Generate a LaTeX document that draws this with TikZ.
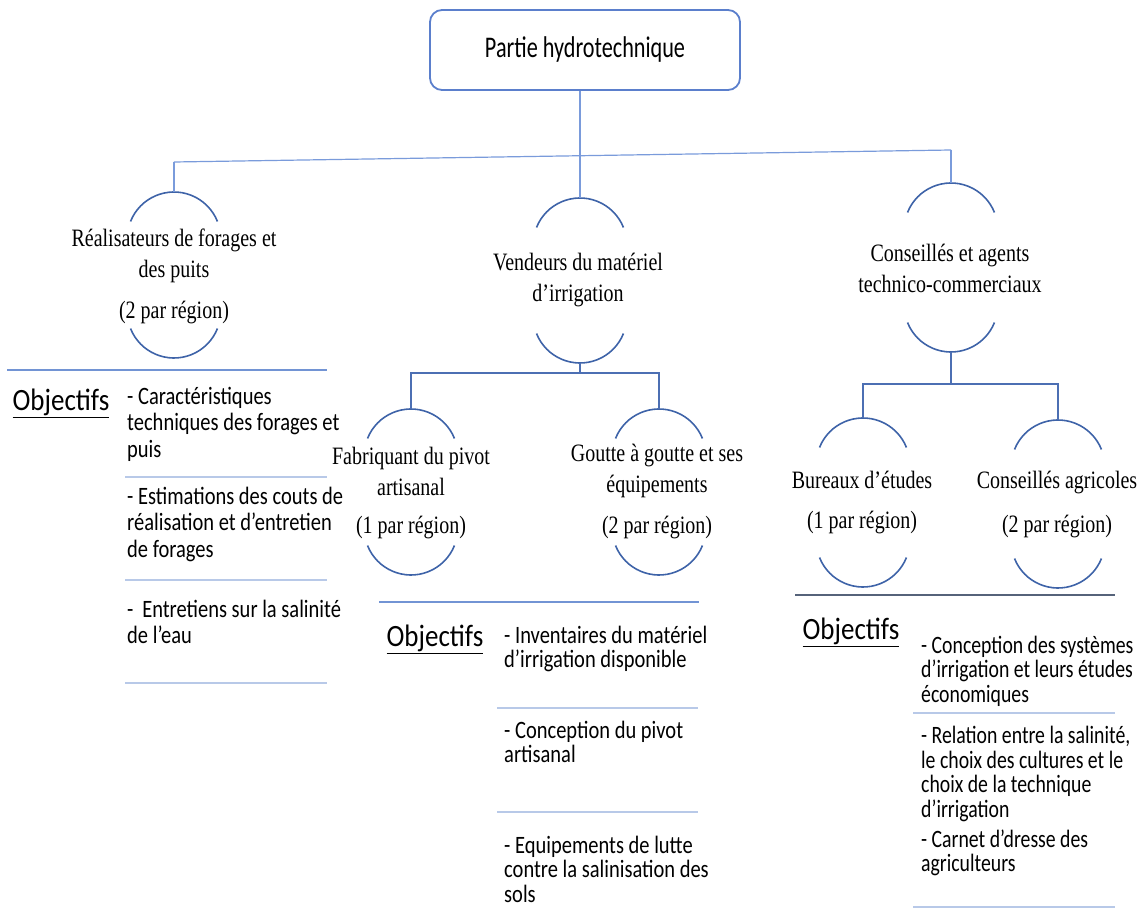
\documentclass[tikz,border=0pt]{standalone}
\usepackage{fontspec}
\setmainfont[FakeStretch=0.8]{Liberation Serif}
\newfontfamily\calibItem[FakeStretch=0.82]{Carlito}
\newfontfamily\calibItemR[FakeStretch=0.79]{Carlito}
\newfontfamily\calibObj[FakeStretch=0.87]{Carlito}
\newfontfamily\calibRoot[FakeStretch=0.74]{Carlito}
\usetikzlibrary{calc}
\definecolor{connA}{HTML}{7A9BDB}
\definecolor{connB}{HTML}{4C6FB3}
\definecolor{arcc}{HTML}{3E63A8}
\definecolor{divA}{HTML}{7294D4}
\definecolor{divB}{HTML}{56637A}
\definecolor{sepc}{HTML}{B8C9E8}
\definecolor{boxc}{HTML}{5B7FCC}
\tikzset{
  rootbox/.style={draw=boxc, line width=1.8pt, rounded corners=12pt, minimum width=310pt, minimum height=80pt, font=\calibRoot\fontsize{30}{34}\selectfont},
  thinconn/.style={draw=connA, line width=1.2pt},
  treeconn/.style={draw=connB, line width=1.6pt},
  arcst/.style={draw=arcc, line width=1.6pt},
  divmain/.style={draw=divA, line width=1.8pt},
  divdark/.style={draw=divB, line width=2pt},
  sepline/.style={draw=sepc, line width=1.6pt},
  lbl/.style={align=center, inner sep=0pt, font=\fontsize{25}{31}\selectfont},
  sublbl/.style={inner sep=0pt, font=\fontsize{25}{28}\selectfont},
  objlbl/.style={inner sep=0pt, font=\calibObj\fontsize{31}{34}\selectfont},
  itemA/.style={anchor=west, align=left, inner sep=0pt, font=\calibItem\fontsize{25}{26.5}\selectfont},
  itemB/.style={anchor=west, align=left, inner sep=0pt, font=\calibItem\fontsize{25}{24.5}\selectfont},
  itemC/.style={anchor=west, align=left, inner sep=0pt, font=\calibItemR\fontsize{25}{24.5}\selectfont},
}
\newcommand\topArc[1]{\draw[arcst] ($(#1)+(-43.5,29.5)$) arc[start angle=201.7, end angle=338.3, radius=46.8];}
\newcommand\botArc[1]{\draw[arcst] ($(#1)+(-43.5,-29.5)$) arc[start angle=158.3, end angle=21.7, radius=46.8];}
\begin{document}
\begin{tikzpicture}[x=1pt,y=-1pt]
\useasboundingbox (0,0) rectangle (1146,909);
% root
\node[rootbox] (root) at (585,50) {Partie hydrotechnique};
% bracket anchors
\coordinate (Ltop) at (174,192); \coordinate (Lbot) at (174,358);
\coordinate (Mtop) at (580,198); \coordinate (Mbot) at (580,363);
\coordinate (Rtop) at (951,183); \coordinate (Rbot) at (951,352);
\coordinate (MAtop) at (411,409); \coordinate (MAbot) at (411,575);
\coordinate (MBtop) at (659,409); \coordinate (MBbot) at (659,575);
\coordinate (RAtop) at (863,418); \coordinate (RAbot) at (863,587);
\coordinate (RBtop) at (1058,420); \coordinate (RBbot) at (1058,588);
\foreach \n in {L,M,R,MA,MB,RA,RB}{\topArc{\n top}\botArc{\n bot}}
% labels
\node[lbl] (Ltxt) at (174,256) {Réalisateurs de forages et\\des puits};
\node[sublbl] (Lsub) at (174,313) {(2 par région)};
\node[lbl] (Mtxt) at (578,280) {Vendeurs du matériel\\d’irrigation};
\node[lbl] (Rtxt) at (950,268) {Conseillés et agents\\technico-commerciaux};
\node[lbl] (MAtxt) at (411,471) {Fabriquant du pivot\\artisanal};
\node[sublbl] (MAsub) at (411,528) {(1 par région)};
\node[lbl] (MBtxt) at (657,471) {Goutte à goutte et ses\\équipements};
\node[sublbl] (MBsub) at (657,528) {(2 par région)};
\node[lbl] (RAtxt) at (862,480) {Bureaux d’études};
\node[sublbl] (RAsub) at (862,523) {(1 par région)};
\node[lbl] (RBtxt) at (1057,483) {Conseillés agricoles};
\node[sublbl] (RBsub) at (1057,527) {(2 par région)};
% top connectors
\coordinate (hL) at (174,162);
\coordinate (hR) at (951,150);
\draw[thinconn] (hL) -- (hR);
\draw[thinconn] (hL) -- (Ltop);
\draw[thinconn] (hR) -- (Rtop);
\draw[thinconn] (root.south -| Mtop) -- (Mtop);
% sub trees
\draw[treeconn] (Mbot) -- ++(0,10) -| (MAtop);
\draw[treeconn] (Mbot) -- ++(0,10) -| (MBtop);
\draw[treeconn] (Rbot) -- ++(0,32) -| (RAtop);
\draw[treeconn] (Rbot) -- ++(0,32) -| (RBtop);
% dividers
\draw[divmain] (7,370) -- (327,370);
\draw[divmain] (379,602) -- (699,602);
\draw[divdark] (795,595) -- (1115,595);
% objectifs labels
\node[objlbl] (Lobj) at (61,403) {\underline{Objectifs}};
\node[objlbl] (Mobj) at (435,639) {\underline{Objectifs}};
\node[objlbl] (Robj) at (851,632) {\underline{Objectifs}};
% left items
\node[itemA] (L1) at (127,424) {- Caractéristiques\\techniques des forages et\\puis};
\draw[sepline] (125,477) -- (327,477);
\node[itemA] (L2) at (127,524) {- Estimations des couts de\\réalisation et d’entretien\\de forages};
\draw[sepline] (125,580) -- (327,580);
\node[itemA] (L3) at (127,622) {-\, Entretiens sur la salinité\\de l’eau};
\draw[sepline] (125,683) -- (327,683);
% middle items
\node[itemB] (M1) at (504,649) {- Inventaires du matériel\\d’irrigation disponible};
\draw[sepline] (497,708) -- (698,708);
\node[itemB] (M2) at (504,742) {- Conception du pivot\\artisanal};
\draw[sepline] (497,812) -- (698,812);
\node[itemB] (M3) at (504,869) {- Equipements de lutte\\contre la salinisation des\\sols};
% right items
\node[itemC] (R1) at (921,671) {- Conception des systèmes\\d’irrigation et leurs études\\économiques};
\draw[sepline] (913,713) -- (1115,713);
\node[itemC] (R2) at (921,774) {- Relation entre la salinité,\\le choix des cultures et le\\choix de la technique\\d’irrigation};
\node[itemC] (R3) at (921,853) {- Carnet d’dresse des\\agriculteurs};
\draw[sepline] (913,907) -- (1115,907);
\end{tikzpicture}
\end{document}
